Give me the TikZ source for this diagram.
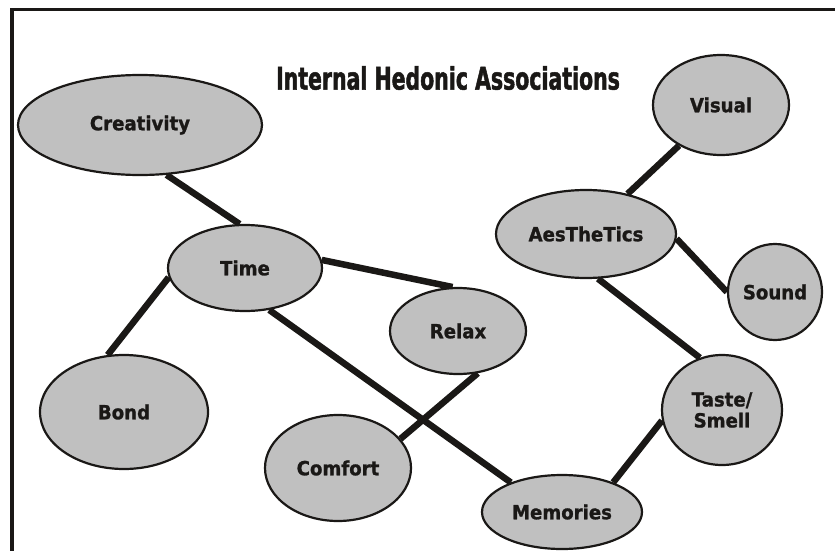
\documentclass[tikz,border=0pt]{standalone}
\usepackage{fontspec}
\usetikzlibrary{shapes.geometric,backgrounds}
\newfontfamily\labelfont{DejaVu Sans}[FakeStretch=0.93, BoldFeatures={FakeBold=1.2}]
\newfontfamily\titlefont{DejaVu Sans}[FakeStretch=0.66, BoldFeatures={FakeBold=1.5}]
\definecolor{bubblegray}{RGB}{192,192,192}
\definecolor{ink}{RGB}{26,24,22}

\begin{document}
\begin{tikzpicture}[x=1pt,y=-1pt,
  bubble/.style={ellipse, draw=ink, line width=2.2pt, fill=bubblegray,
    inner sep=0pt, text=ink, align=center,
    font=\labelfont\bfseries\fontsize{19.5}{21}\selectfont},
  link/.style={draw=ink, line width=6.5pt},
  frameline/.style={draw=ink, line width=3.5pt}]

\useasboundingbox (0,0) rectangle (835,551);

% frame on the left and top
\draw[frameline] (12,551) |- (835,9.5);

% title
\node[text=ink, font=\titlefont\bfseries\fontsize{31}{34}\selectfont] (title) at (448,78) {Internal Hedonic Associations};

% concept bubbles
\node[bubble, minimum width=244pt, minimum height=100pt] (crea)  at (140,125) {Creativity};
\node[bubble, minimum width=136pt, minimum height=100pt] (vis)   at (721,105) {Visual};
\node[bubble, minimum width=180pt, minimum height=88pt]  (aes)   at (586,234) {AesTheTics};
\node[bubble, minimum width=94pt,  minimum height=96pt]  (sound) at (775,292) {Sound};
\node[bubble, minimum width=154pt, minimum height=86pt]  (time)  at (245,268) {Time};
\node[bubble, minimum width=136pt, minimum height=86pt]  (relax) at (458,331) {Relax};
\node[bubble, minimum width=168pt, minimum height=114pt] (bond)  at (124,412) {Bond};
\node[bubble, minimum width=120pt, minimum height=110pt] (taste) at (722,410) {Taste/\\Smell};
\node[bubble, minimum width=146pt, minimum height=106pt] (comf)  at (338,468) {Comfort};
\node[bubble, minimum width=160pt, minimum height=74pt]  (mem)   at (562,512) {Memories};

% connectors
\begin{pgfonlayer}{background}
\draw[link] (crea.298)  -- (time.97);
\draw[link] (time.187)  -- (bond.106);
\draw[link] (time.6)    -- (relax.97);
\draw[link] (time.300)  -- (mem.150);
\draw[link] (relax.295) -- (comf.25);
\draw[link] (aes.44)    -- (vis.224);
\draw[link] (aes.357)   -- (sound.180);
\draw[link] (aes.285)   -- (taste.113);
\draw[link] (taste.190) -- (mem.30);
\end{pgfonlayer}
\end{tikzpicture}
\end{document}
